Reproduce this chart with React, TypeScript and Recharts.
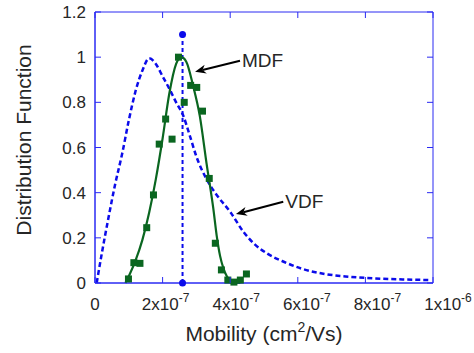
import { ComposedChart, Line, Scatter, XAxis, YAxis, ReferenceLine, ReferenceArea } from "recharts"

document.body.style.margin = "0"

// mobility values are in units of 1e-7 cm2/Vs
const vdfX = [0.05, 0.2, 0.4, 0.6, 0.8, 1.0, 1.2, 1.4, 1.6, 1.8, 2.0, 2.2, 2.4, 2.6, 2.8, 3.0, 3.3, 3.6, 4.0, 4.4, 4.7, 5.1, 5.6, 6.1, 6.8, 7.5, 8.3, 9.1, 9.9]
const vdfY = [0, 0.13, 0.29, 0.44, 0.57, 0.72, 0.85, 0.94, 0.995, 0.97, 0.915, 0.86, 0.8, 0.745, 0.655, 0.56, 0.46, 0.39, 0.315, 0.225, 0.175, 0.13, 0.093, 0.064, 0.04, 0.028, 0.02, 0.016, 0.013]

const mdfX = [0.9, 1.0, 1.2, 1.4, 1.6, 1.8, 2.0, 2.2, 2.4, 2.55, 2.7, 2.9, 3.1, 3.3, 3.5, 3.6, 3.7, 3.8, 3.9, 4.0, 4.15, 4.3]
const mdfY = [0, 0.03, 0.1, 0.19, 0.31, 0.46, 0.64, 0.84, 0.97, 1.0, 0.98, 0.875, 0.74, 0.53, 0.33, 0.21, 0.12, 0.065, 0.03, 0.012, 0.002, 0]

const expX = [0.99, 1.15, 1.33, 1.53, 1.73, 1.9, 2.09, 2.28, 2.47, 2.64, 2.83, 3.01, 3.18, 3.38, 3.56, 3.74, 3.93, 4.11, 4.3, 4.48]
const expY = [0.018, 0.09, 0.087, 0.245, 0.39, 0.615, 0.726, 0.637, 1.0, 0.8, 0.875, 0.866, 0.761, 0.463, 0.176, 0.058, 0.013, 0.004, 0.013, 0.04]

const peakX = 2.59
const peakY = [0, 1.1]

const xTicks = [0, 2, 4, 6, 8, 10]
const xTickBase = ["0", "2x10", "4x10", "6x10", "8x10", "1x10"]
const xTickExp = ["", "-7", "-7", "-7", "-7", "-6"]
const yTicks = [0, 0.2, 0.4, 0.6, 0.8, 1, 1.2]
const yTickLabels = ["0", "0.2", "0.4", "0.6", "0.8", "1", "1.2"]

// annotation arrows: [label, start x, start y, tip x, tip y]
const notes: [string, number, number, number, number][] = [
  ["MDF", 4.29, 0.984, 2.96, 0.935],
  ["VDF", 5.57, 0.36, 4.17, 0.305],
]

const vdf = vdfX.map((x, i) => ({ x, y: vdfY[i] }))
const mdf = mdfX.map((x, i) => ({ x, y: mdfY[i] }))
const exp = expX.map((x, i) => ({ x, y: expY[i] }))
const peak = peakY.map((y) => ({ x: peakX, y }))

const BLUE = "#0b0bea"
const AXIS = "#2a2af2"
const GREEN = "#0a6620"
const TEXT = "#262626"
const FONT = "'Liberation Sans', Arial, sans-serif"

const LEFT = 95
const RIGHT = 433
const TOP = 12
const BOTTOM = 283

const XTick = (props: any) => {
  const { x, y, index } = props
  return (
    <g>
      <line x1={x} y1={BOTTOM} x2={x} y2={BOTTOM - 6} stroke={AXIS} />
      <line x1={x} y1={TOP} x2={x} y2={TOP + 6} stroke={AXIS} />
      <text x={x + index * 3} y={y + 27} textAnchor="middle" fontSize={17} fill={TEXT} fontFamily={FONT}>
        {xTickBase[index]}
        {xTickExp[index] && (
          <tspan dy={-8} fontSize={12}>
            {xTickExp[index]}
          </tspan>
        )}
      </text>
    </g>
  )
}

const YTick = (props: any) => {
  const { x, y, index } = props
  return (
    <g>
      <line x1={LEFT} y1={y} x2={LEFT + 6} y2={y} stroke={AXIS} />
      <line x1={RIGHT} y1={y} x2={RIGHT - 6} y2={y} stroke={AXIS} />
      <text x={x - 9} y={y + 6} textAnchor="end" fontSize={17} fill={TEXT} fontFamily={FONT}>
        {yTickLabels[index]}
      </text>
    </g>
  )
}

const Arrow = (label: string) => (props: any) => {
  const { x1, y1, x2, y2 } = props
  const dx = x2 - x1
  const dy = y2 - y1
  const len = Math.hypot(dx, dy)
  const ux = dx / len
  const uy = dy / len
  const head = 11
  const half = 4.5
  const bx = x2 - ux * head
  const by = y2 - uy * head
  const nx = x2 - ux * head * 0.7
  const ny = y2 - uy * head * 0.7
  const pts = [
    [x2, y2],
    [bx - uy * half, by + ux * half],
    [nx, ny],
    [bx + uy * half, by - ux * half],
  ]
  return (
    <g>
      <line x1={x1} y1={y1} x2={nx} y2={ny} stroke="#000" strokeWidth={2} />
      <polygon points={pts.map((p) => p.join(",")).join(" ")} fill="#000" />
      <text x={x1 + 2} y={y1 + 6} fontSize={19} fill={TEXT} fontFamily={FONT}>
        {label}
      </text>
    </g>
  )
}

const Square = (props: any) => {
  const { cx, cy } = props
  return <rect x={cx - 3.5} y={cy - 3.5} width={7} height={7} fill={GREEN} />
}

const Dot = (props: any) => {
  const { cx, cy, index } = props
  return <circle key={index} cx={cx} cy={cy} r={3.5} fill={BLUE} />
}

export default function App() {
  return (
    <ComposedChart width={474} height={353} margin={{ top: TOP, right: 474 - RIGHT, bottom: 0, left: 0 }}>
      <XAxis
        type="number"
        dataKey="x"
        domain={[0, 10]}
        ticks={xTicks}
        height={353 - BOTTOM}
        tickSize={0}
        tickMargin={0}
        tickLine={false}
        axisLine={{ stroke: AXIS }}
        tick={<XTick />}
        label={{
          content: () => (
            <text x={264} y={341} textAnchor="middle" fontSize={21} fill={TEXT} fontFamily={FONT}>
              Mobility (cm
              <tspan dy={-9} fontSize={14}>2</tspan>
              <tspan dy={9}>/Vs)</tspan>
            </text>
          ),
        }}
      />
      <YAxis
        type="number"
        domain={[0, 1.2]}
        ticks={yTicks}
        width={LEFT}
        tickSize={0}
        tickMargin={0}
        tickLine={false}
        axisLine={{ stroke: AXIS }}
        tick={<YTick />}
        label={{
          content: () => (
            <text transform="translate(31,140) rotate(-90)" textAnchor="middle" fontSize={21} fill={TEXT} fontFamily={FONT}>
              Distribution Function
            </text>
          ),
        }}
      />
      <ReferenceArea x1={0} x2={10} y1={0} y2={1.2} fill="none" stroke={AXIS} strokeWidth={1} ifOverflow="visible" />
      <Line
        data={vdf}
        dataKey="y"
        type="monotone"
        stroke={BLUE}
        strokeWidth={2.5}
        strokeDasharray="5 3"
        dot={false}
        isAnimationActive={false}
      />
      <Line
        data={peak}
        dataKey="y"
        stroke={BLUE}
        strokeWidth={2}
        strokeDasharray="4 3"
        dot={<Dot />}
        isAnimationActive={false}
      />
      <Line data={mdf} dataKey="y" type="monotone" stroke={GREEN} strokeWidth={2.2} dot={false} isAnimationActive={false} />
      <Scatter data={exp} dataKey="y" shape={<Square />} isAnimationActive={false} />
      {notes.map(([label, sx, sy, tx, ty]) => (
        <ReferenceLine
          key={label}
          segment={[
            { x: sx, y: sy },
            { x: tx, y: ty },
          ]}
          shape={Arrow(label)}
          ifOverflow="visible"
        />
      ))}
    </ComposedChart>
  )
}
